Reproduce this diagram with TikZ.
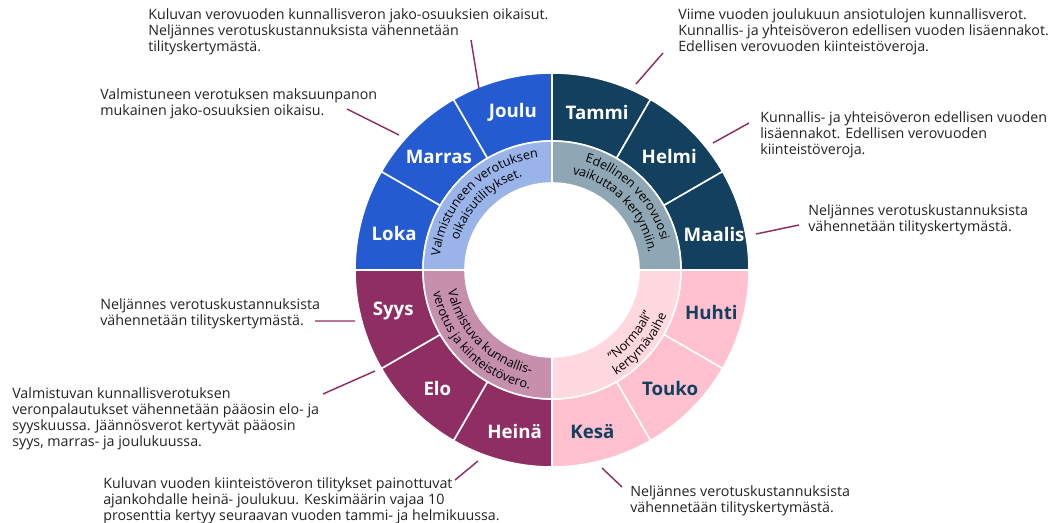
\documentclass[tikz,border=0pt]{standalone}
\usepackage{fontspec}
\setmainfont{Open Sans}
\usepackage{xcolor}
\usetikzlibrary{decorations.text}
\definecolor{kv1}{HTML}{12405E}
\definecolor{kv1in}{HTML}{8FA7B5}
\definecolor{kv2}{HTML}{FFC0CF}
\definecolor{kv2in}{HTML}{FFD8E0}
\definecolor{kv3}{HTML}{8E2E62}
\definecolor{kv3in}{HTML}{C690AC}
\definecolor{kv4}{HTML}{245BD0}
\definecolor{kv4in}{HTML}{9AB4EA}
\definecolor{txt}{HTML}{222222}
\newcommand{\ringfont}{\fontsize{9.5}{10}\selectfont}

\begin{document}
\begin{tikzpicture}[x=0.75pt,y=0.75pt,
	note/.style={anchor=north west,align=left,inner sep=0pt,text=txt,font=\fontsize{10.7}{12}\selectfont},
	lead/.style={draw=kv3,line width=1.1pt},
	month/.style={font=\fontsize{14}{16}\bfseries\selectfont},
	sector/.style={draw=white,line width=1.2pt}]
		\useasboundingbox (0,0) rectangle (1050,522);
		\coordinate (c) at (552,252);
		%kuukausirengas
		\foreach \i/\col in {0/kv1,1/kv1,2/kv1,3/kv2,4/kv2,5/kv2,6/kv3,7/kv3,8/kv3,9/kv4,10/kv4,11/kv4}
			\filldraw[sector,fill=\col,shift={(552,252)}] (90-30*\i:197) arc (90-30*\i:60-30*\i:197) -- (60-30*\i:129) arc (60-30*\i:90-30*\i:129) -- cycle;
		%neljännesrengas
		\foreach \i/\col in {0/kv1in,1/kv2in,2/kv3in,3/kv4in}
			\filldraw[sector,fill=\col,shift={(552,252)}] (90-90*\i:129) arc (90-90*\i:-90*\i:129) -- (-90*\i:87) arc (-90*\i:90-90*\i:87) -- cycle;
		%kuukaudet
		\foreach \n/\a/\r/\m/\col in {1/74/164/Tammi/white,2/44/163/Helmi/white,3/12.5/166/Maalis/white,
			4/-15/165/Huhti/kv1,5/-45/167/Touko/kv1,6/-76/167/Kesä/kv1,
			7/-103/166/Heinä/white,8/-134/165/Elo/white,9/-165.5/164/Syys/white,
			10/167/162/Loka/white,11/135/160/Marras/white,12/104/162/Joulu/white}
			\node[month,text=\col] (m-\n) at ([shift={(\a:\r)}]c) {\m};
		%renkaan tekstit
		\path[decorate,decoration={text along path,text align=center,text={|\ringfont|Valmistuneen verotuksen}}] (c) ++(180:113) arc (180:90:113);
		\path[decorate,decoration={text along path,text align=center,text={|\ringfont|oikaisutilitykset.}}] (c) ++(180:98) arc (180:90:98);
		\path[decorate,decoration={text along path,text align=center,text={|\ringfont|Edellinen verovuosi}}] (c) ++(89:113) arc (89:-1:113);
		\path[decorate,decoration={text along path,text align=center,text={|\ringfont|vaikuttaa kertymiin.}}] (c) ++(89:98) arc (89:-1:98);
		\path[decorate,decoration={text along path,text align=center,text={|\ringfont|”Normaali”}}] (c) ++(-80:109) arc (-80:0:109);
		\path[decorate,decoration={text along path,text align=center,text={|\ringfont|kertymävaihe}}] (c) ++(-80:123) arc (-80:0:123);
		\path[decorate,decoration={text along path,text align=center,text={|\ringfont|Valmistuva kunnallis-}}] (c) ++(-180:106) arc (-180:-90:106);
		\path[decorate,decoration={text along path,text align=center,text={|\ringfont|verotus ja kiinteistövero.}}] (c) ++(-180:121) arc (-180:-90:121);
		%selitteet
		\node[note] (t-joulu) at (148,514) {Kuluvan verovuoden kunnallisveron jako-osuuksien oikaisut.\\Neljännes verotuskustannuksista vähennetään\\tilityskertymästä.};
		\node[note] (t-marras) at (100,434) {Valmistuneen verotuksen maksuunpanon\\mukainen jako-osuuksien oikaisu.};
		\node[note] (t-tammi) at (678,514) {Viime vuoden joulukuun ansiotulojen kunnallisverot.\\Kunnallis- ja yhteisöveron edellisen vuoden lisäennakot.\\Edellisen verovuoden kiinteistöveroja.};
		\node[note] (t-helmi) at (760,411) {Kunnallis- ja yhteisöveron edellisen vuoden\\lisäennakot. Edellisen verovuoden\\kiinteistöveroja.};
		\node[note] (t-maalis) at (808,318) {Neljännes verotuskustannuksista\\vähennetään tilityskertymästä.};
		\node[note] (t-syys) at (100,224) {Neljännes verotuskustannuksista\\vähennetään tilityskertymästä.};
		\node[note] (t-elo) at (12,135) {Valmistuvan kunnallisverotuksen\\veronpalautukset vähennetään pääosin elo- ja\\syyskuussa. Jäännösverot kertyvät pääosin\\syys, marras- ja joulukuussa.};
		\node[note] (t-heina) at (103,45) {Kuluvan vuoden kiinteistöveron tilitykset painottuvat\\ajankohdalle heinä- joulukuu. Keskimäärin vajaa 10\\prosenttia kertyy seuraavan vuoden tammi- ja helmikuussa.};
		\node[note] (t-kesa) at (630,37) {Neljännes verotuskustannuksista\\vähennetään tilityskertymästä.};
		%viivat
		\coordinate (joulu-a) at (471,482); \coordinate (joulu-b) at (479,433);
		\coordinate (marras-a) at (347,413); \coordinate (marras-b) at (399,387);
		\coordinate (tammi-a) at (663,469); \coordinate (tammi-b) at (636,438);
		\coordinate (helmi-a) at (749,399); \coordinate (helmi-b) at (713,379);
		\coordinate (maalis-a) at (799,297); \coordinate (maalis-b) at (756,288);
		\coordinate (syys-a) at (315,201); \coordinate (syys-b) at (355,201);
		\coordinate (elo-a) at (323,128); \coordinate (elo-b) at (375,151);
		\coordinate (heina-a) at (455,42); \coordinate (heina-b) at (478,61);
		\coordinate (kesa-a) at (622,35); \coordinate (kesa-b) at (602,54);
		\draw[lead] (joulu-a) -- (joulu-b) (marras-a) -- (marras-b) (tammi-a) -- (tammi-b);
		\draw[lead] (helmi-a) -- (helmi-b) (maalis-a) -- (maalis-b) (syys-a) -- (syys-b);
		\draw[lead] (elo-a) -- (elo-b) (heina-a) -- (heina-b) (kesa-a) -- (kesa-b);
	\end{tikzpicture}
\end{document}
